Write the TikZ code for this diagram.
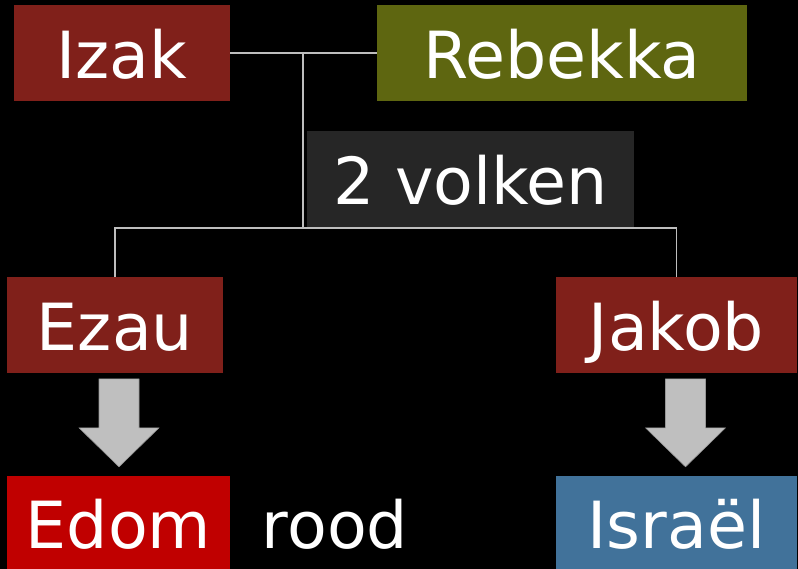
\documentclass[tikz,border=0pt]{standalone}
\usepackage{fontspec}
\setmainfont{DejaVu Sans}
\usetikzlibrary{calc}
\definecolor{bgblack}{RGB}{0,0,0}
\definecolor{darkred}{RGB}{128,32,26}
\definecolor{olivebox}{RGB}{94,102,16}
\definecolor{darkgraybox}{RGB}{38,38,38}
\definecolor{edomred}{RGB}{192,0,0}
\definecolor{israelblue}{RGB}{65,114,154}
\definecolor{linegray}{RGB}{190,190,190}
\definecolor{arrowfill}{RGB}{191,191,191}
\definecolor{arrowedge}{RGB}{150,150,150}
\tikzset{
  lbl/.style={text=white, inner sep=0pt, font=\fontsize{65}{71}\selectfont,
    text height=50.4pt, text depth=0pt, align=center},
  box/.style={lbl, rectangle, fill=#1},
  conn/.style={draw=linegray, line width=1.5pt},
  blockarrow/.style={fill=arrowfill, draw=arrowedge, line width=0.6pt}
}
\begin{document}
\begin{tikzpicture}[x=1pt,y=-1pt]
\fill[bgblack] (0,0) rectangle (798,569);
\useasboundingbox (0,0) rectangle (798,569);

\node[box=darkred, minimum width=216pt, minimum height=96pt] (izak) at (122,53) {Izak};
\node[box=olivebox, minimum width=370pt, minimum height=96pt] (rebekka) at (562,53) {Rebekka};
\node[box=darkgraybox, minimum width=327pt, minimum height=97pt] (volken) at (470.5,179.5) {2 volken};
\node[box=darkred, minimum width=216pt, minimum height=96pt] (ezau) at (115,325) {Ezau};
\node[box=darkred, minimum width=241pt, minimum height=96pt] (jakob) at (676.5,325) {Jakob};
\node[box=edomred, minimum width=223pt, minimum height=94pt] (edom) at (118.5,523) {Edom};
\node[box=israelblue, minimum width=241pt, minimum height=94pt] (israel) at (676.5,523) {Israël};
\node[lbl] (rood) at (335,523) {rood};

\coordinate (m) at (303,52);
\coordinate (j) at (303,228);
\draw[conn] (izak.east) -- (rebekka.west);
\draw[conn] (m) -- (j);
\draw[conn] (ezau.north) |- (j);
\draw[conn] (jakob.north) |- (j);

% block arrows
\foreach \bot/\dx in {edom/0.5, israel/9}{
  \path[blockarrow]
    ($(\bot.north)+(\dx-20,-97)$) -- ($(\bot.north)+(\dx+20,-97)$) --
    ($(\bot.north)+(\dx+20,-48)$) -- ($(\bot.north)+(\dx+40,-48)$) --
    ($(\bot.north)+(\dx,-9)$) -- ($(\bot.north)+(\dx-40,-48)$) --
    ($(\bot.north)+(\dx-20,-48)$) -- cycle;
}
\end{tikzpicture}
\end{document}
